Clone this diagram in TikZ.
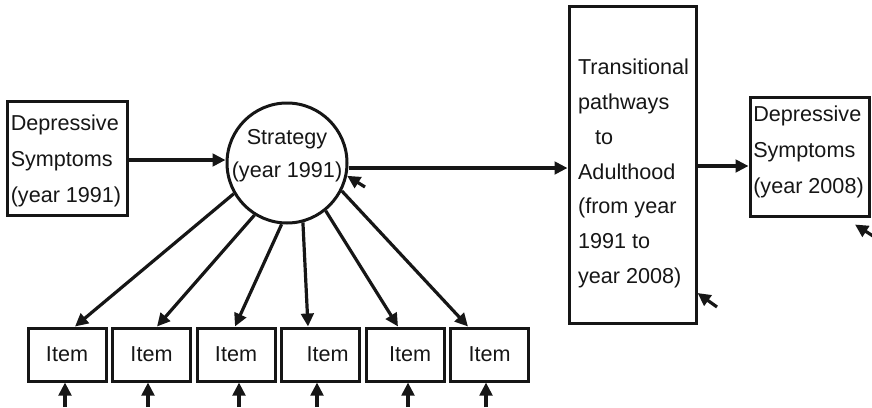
\documentclass[tikz,border=0pt]{standalone}
\usepackage{fontspec}
\setmainfont{Liberation Sans}
\usepackage{tikz}
\usetikzlibrary{
  arrows.meta,
  positioning,
  calc
}
\definecolor{inkgray}{HTML}{161616}
\tikzset{
  arrow/.style   = {-{Triangle[length=13pt, width=12.5pt]}, line width=3.2pt, inkgray},
  obsbox/.style  = {draw, line width=3pt, inkgray, inner sep=0pt},
  itembox/.style = {draw, line width=3pt, inkgray, text=inkgray,
                    minimum width=78pt, minimum height=53pt, inner sep=0pt,
                    font={\fontsize{21.6}{26}\selectfont}},
  latent/.style  = {draw, circle, line width=3pt, inkgray,
                    minimum size=120pt, inner sep=0pt},
  boxtext/.style = {text=inkgray, align=left, inner sep=0pt,
                    font={\fontsize{21.6}{36}\selectfont}},
}
\begin{document}
\begin{tikzpicture}[x=1pt, y=-1pt]
    \useasboundingbox (0,0) rectangle (872,407);

    % Observed and latent variables
    \node[obsbox, minimum width=120pt, minimum height=114pt] (dep1) at (67,158.5) {};
    \node[boxtext] (dep1text) at ([xshift=-1pt, yshift=-2.5pt]dep1.center)
        {Depressive\\Symptoms\\(year 1991)};
    \node[latent] (strat) at (287,163) {};
    \node[boxtext, align=center, font={\fontsize{21.6}{33}\selectfont}]
        (strattext) at ([yshift=7.5pt]strat.center) {Strategy\\(year 1991)};
    \node[obsbox, minimum width=127pt, minimum height=317pt] (trans) at (632.5,164.5) {};
    \node[boxtext, font={\fontsize{21.6}{34.7}\selectfont}]
        (transtext) at ([xshift=1pt, yshift=-9pt]trans.center)
        {Transitional\\pathways\\\hspace*{17pt}to\\Adulthood\\(from year\\1991 to\\year 2008)};
    \node[obsbox, minimum width=119pt, minimum height=119pt] (dep2) at (809.5,156.5) {};
    \node[boxtext] (dep2text) at ([xshift=-1pt, yshift=4.5pt]dep2.center)
        {Depressive\\Symptoms\\(year 2008)};

    % Structural paths
    \draw[arrow] ([yshift=-1.5pt]dep1.east) -- ([yshift=-1.5pt]dep1.east -| strat.west);
    \draw[arrow] ([yshift=-5pt]strat.east) -- ([yshift=-5pt]strat.east -| trans.west);
    \draw[arrow] ([yshift=-1.5pt]trans.east) -- ([yshift=-1.5pt]trans.east -| dep2.west);

    % Measurement items with loadings and errors
    \foreach \i/\a/\dx/\bx/\tx in {1/210/8/-2/0, 2/238/5.5/-3.5/0, 3/265/-1/3/0,
                                   4/285/-12.5/-3.5/14, 5/309/-7/3/10, 6/333/-21.5/-3.5/0} {
        \pgfmathsetmacro{\xc}{67+84.5*(\i-1)}
        \node[itembox] (item\i) at (\xc,354.5) {\hspace*{\tx pt}Item};
        \draw[arrow] (strat.\a) -- ([xshift=\dx pt]item\i.north);
        \coordinate (u\i) at (\xc+\bx,407);
        \draw[arrow] (u\i) -- (u\i |- item\i.south);
    }

    % Residual errors
    \coordinate (e1) at (365,187);
    \coordinate (e2) at (717,307);
    \coordinate (e3) at (873,236);
    \draw[arrow] (e1) -- (strat.-12);
    \draw[arrow] (e2) -- ([yshift=-128.5pt]trans.east);
    \draw[arrow] (e3) -- ([xshift=45.5pt, yshift=-7pt]dep2.south);

\end{tikzpicture}
\end{document}
